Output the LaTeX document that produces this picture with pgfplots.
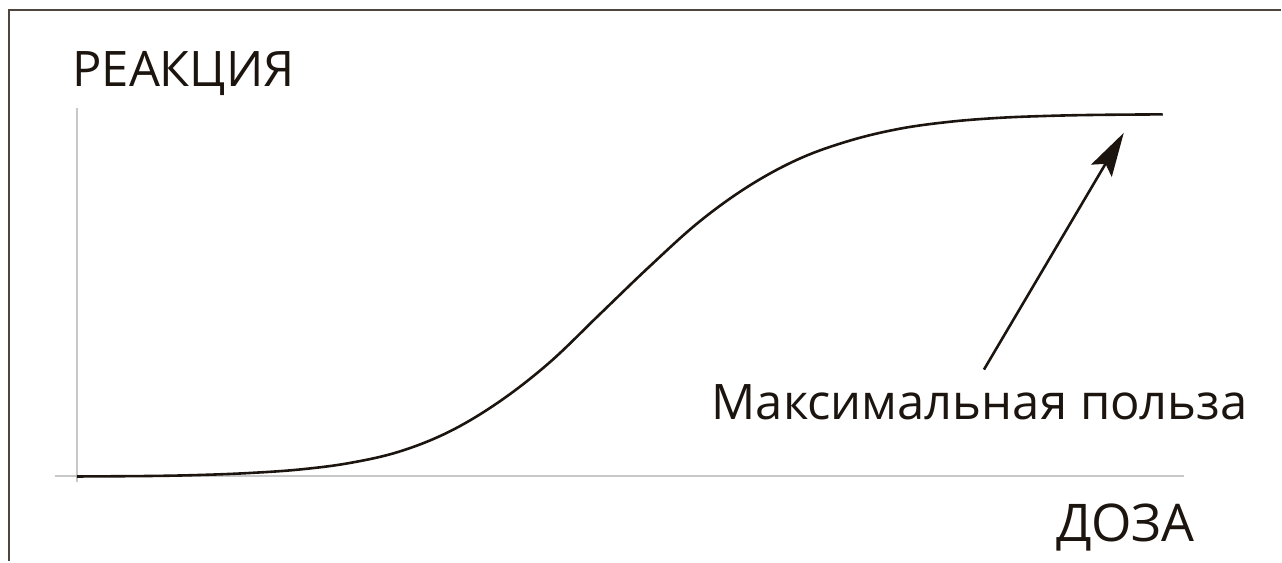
\documentclass[border=0pt]{standalone}
\usepackage{fontspec}
\setmainfont{Open Sans}
\usepackage{pgfplots}
\pgfplotsset{compat=1.18}
\usetikzlibrary{arrows.meta}
\definecolor{inkdark}{HTML}{1C150F}
\definecolor{framegray}{HTML}{4E453D}
\definecolor{axisgray}{HTML}{C8C8C8}

\begin{document}
\begin{tikzpicture}
% 1 px of the reference = 0.5pt; y is counted upwards from the bottom edge
\begin{axis}[
    scale only axis,
    width=641pt, height=281pt,
    xmin=0, xmax=1282, ymin=0, ymax=562,
    hide axis,
    clip=false,
]
% frame
\draw[framegray, line width=1.4pt] (axis cs:9,0) -- (axis cs:9,552) -- (axis cs:1282,552);
% axes
\draw[axisgray, line width=1pt] (axis cs:77,79) -- (axis cs:77,454);
\draw[axisgray, line width=1pt] (axis cs:55,85) -- (axis cs:1185,85);

\addplot[inkdark, line width=1.3pt, smooth, tension=0.6] coordinates {
    (77,85) (150,85.5) (200,86.5) (250,88.5) (300,92) (350,98.5) (400,110)
    (450,130) (500,160) (550,199) (600,247) (650,295) (700,340)
    (750,376) (800,403) (850,421) (900,433) (950,440) (1000,444)
    (1050,446) (1100,447) (1164,447.5)
};

\draw[inkdark, line width=1.3pt, -{Stealth[length=22pt, width=12pt, inset=4pt]}]
    (axis cs:985,192) -- (axis cs:1125,429);

\node[anchor=base west, inner sep=0pt, text=inkdark, font=\fontsize{24.5}{28}\selectfont]
    at (axis cs:72,475) {РЕАКЦИЯ};
\node[anchor=base west, inner sep=0pt, text=inkdark, font=\fontsize{26}{30}\selectfont]
    at (axis cs:1057,20) {ДОЗА};
\node[anchor=base west, inner sep=0pt, text=inkdark, font=\fontsize{24.5}{28}\selectfont]
    at (axis cs:712,142) {Максимальная польза};
\path (rel axis cs:0,0) rectangle (rel axis cs:1,1);
\end{axis}
\end{tikzpicture}
\end{document}
